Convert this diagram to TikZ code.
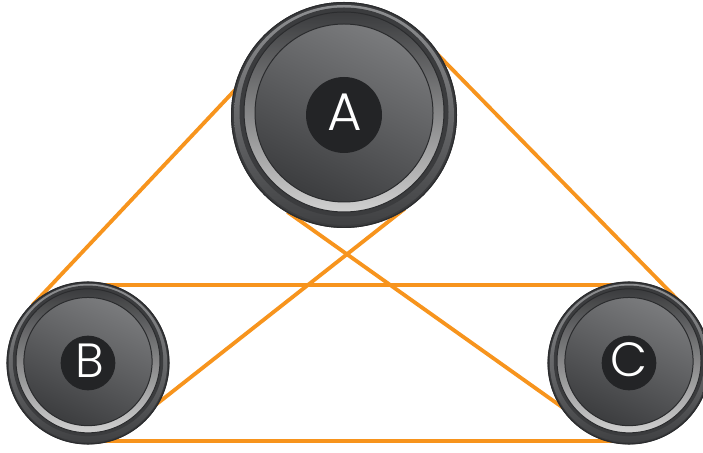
\documentclass[tikz,border=0pt]{standalone}
\usepackage{fontspec}
\newfontfamily\lblfont{Poppins Light}
\definecolor{beltc}{HTML}{F7941D}
\definecolor{rimdark}{HTML}{3B3C3E}
\definecolor{rimedge}{HTML}{2B2C2E}
\definecolor{bandtop}{HTML}{8E8F91}
\definecolor{bandmid}{HTML}{67686A}
\definecolor{bandbot}{HTML}{404143}
\definecolor{silver}{HTML}{D0D0D0}
\definecolor{facelight}{HTML}{7A7B7D}
\definecolor{facedark}{HTML}{3C3D3F}
\definecolor{hubc}{HTML}{232426}
\newcommand\drawpulley[2]{%
  \begin{scope}[shift={(#1)}, scale=#2]
    \fill[rimdark] (0,0) circle (113);
    \draw[rimedge, line width=1.2pt] (0,0) circle (112.4);
    \shade[top color=bandtop, bottom color=bandbot, middle color=bandmid] (0,0) circle (110);
    \fill[rimdark] (0,3) circle (104.5);
    \shade[top color=rimdark, bottom color=silver] (0,3) circle (100);
    \draw[rimedge, line width=1pt] (0,3) circle (100);
    \shade[top color=facelight, bottom color=facedark, shading angle=-25] (0,2) circle (89);
    \draw[rimedge, line width=1pt] (0,2) circle (89);
    \fill[hubc] (0,0) circle (38);
  \end{scope}}
\begin{document}
\begin{tikzpicture}[x=1pt,y=1pt,
  belt/.style={draw=beltc, line width=3.8pt},
  lbl/.style={text=white, inner sep=0pt, font=\lblfont}]
\useasboundingbox (0,0) rectangle (703,452);
\clip (0,0) rectangle (703,452);
\fill[white] (0,0) rectangle (703,452);
% pulley centres
\coordinate (A) at (344,337);
\coordinate (B) at (88,89);
\coordinate (C) at (629,89);
% belt end points (hidden under the pulleys)
\coordinate (l1b) at (32.5,147);   \coordinate (l1a) at (242.6,370.1);
\coordinate (l2a) at (433.4,401.9); \coordinate (l2c) at (689.6,140.1);
\coordinate (l3a) at (287.5,240);  \coordinate (l3c) at (572.4,37.6);
\coordinate (l4a) at (404.75,243.25); \coordinate (l4b) at (146.25,39.75);
\coordinate (l5b) at (88,167);     \coordinate (l5c) at (629,167);
\coordinate (l6b) at (88,11);      \coordinate (l6c) at (629,11);
\draw[belt] (l1b) -- (l1a);
\draw[belt] (l2a) -- (l2c);
\draw[belt] (l3a) -- (l3c);
\draw[belt] (l4a) -- (l4b);
\draw[belt] (l5b) -- (l5c);
\draw[belt] (l6b) -- (l6c);
% pulleys
\drawpulley{A}{1}
\drawpulley{B}{0.72}
\drawpulley{C}{0.72}
% labels
\node[lbl, font=\lblfont\fontsize{53}{53}\selectfont] (labA) at (345,340) {A};
\node[lbl, font=\lblfont\fontsize{48}{48}\selectfont] (labB) at (90,91) {B};
\node[lbl, font=\lblfont\fontsize{48}{48}\selectfont] (labC) at (629,92) {C};
\end{tikzpicture}
\end{document}
